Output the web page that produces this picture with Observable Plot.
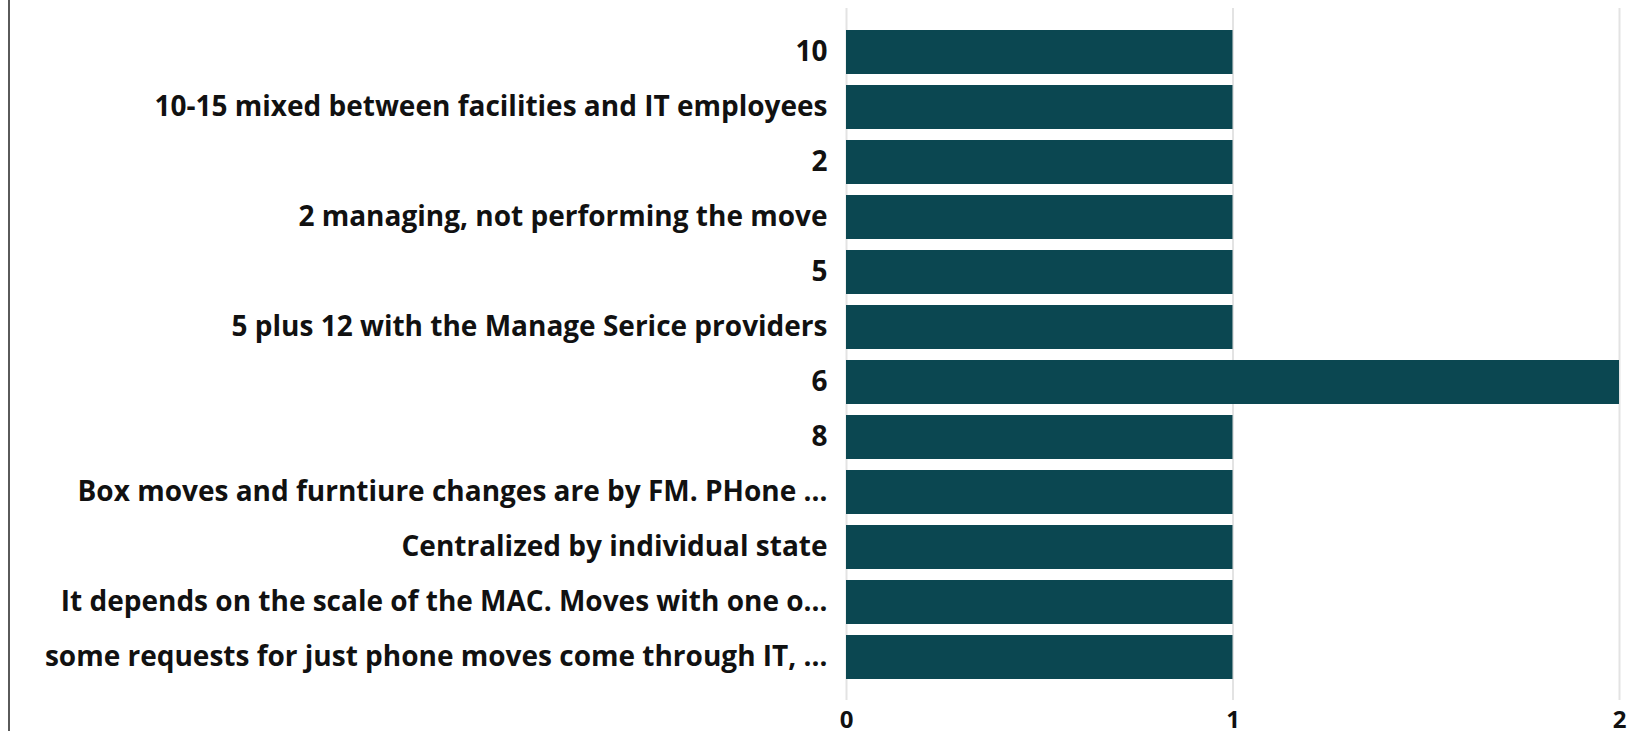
<!DOCTYPE html>
<html>
<head>
<meta charset="utf-8">
<script src="https://cdn.jsdelivr.net/npm/d3@7"></script>
<script src="https://cdn.jsdelivr.net/npm/@observablehq/plot@0.6"></script>
<style>
  html, body { margin: 0; padding: 0; background: #fff; }
  #wrap { position: relative; width: 1635px; height: 731px; overflow: hidden; }
  #edge { position: absolute; left: 8px; top: 0; width: 2px; height: 731px; background: #5a5a5a; }
</style>
</head>
<body>
<div id="wrap"><div id="edge"></div></div>
<script>
const categories = [
  "10",
  "10-15 mixed between facilities and IT employees",
  "2",
  "2 managing, not performing the move",
  "5",
  "5 plus 12 with the Manage Serice providers",
  "6",
  "8",
  "Box moves and furntiure changes are by FM. PHone …",
  "Centralized by individual state",
  "It depends on the scale of the MAC. Moves with one o…",
  "some requests for just phone moves come through IT, …"
];
const counts = [1, 1, 1, 1, 1, 1, 2, 1, 1, 1, 1, 1];
const xTicks = [0, 1, 2];

const data = categories.map((c, i) => ({label: c, value: counts[i]}));

const chart = Plot.plot({
  width: 1635,
  height: 731,
  marginLeft: 846,
  marginRight: 16,
  marginTop: 8,
  marginBottom: 31,
  style: {fontFamily: "'Open Sans', sans-serif", background: "transparent"},
  x: {domain: [0, 2], label: null},
  y: {domain: categories, paddingInner: 0.2, paddingOuter: 0.39, label: null},
  marks: [
    Plot.gridX(xTicks, {stroke: "#e3e3e3", strokeOpacity: 1, strokeWidth: 2}),
    Plot.barX(data, {x: "value", y: "label", fill: "#0b4751"}),
    Plot.axisX(xTicks, {tickSize: 0, tickPadding: 10, fontSize: 24, fontWeight: "bold", fill: "#111", tickFormat: d => String(d), label: null}),
    Plot.axisY({tickSize: 0, tickPadding: 19, fontSize: 28, fontWeight: "bold", fill: "#111", label: null, textOverflow: null, lineWidth: Infinity})
  ]
});
document.getElementById("wrap").appendChild(chart);
</script>
</body>
</html>
